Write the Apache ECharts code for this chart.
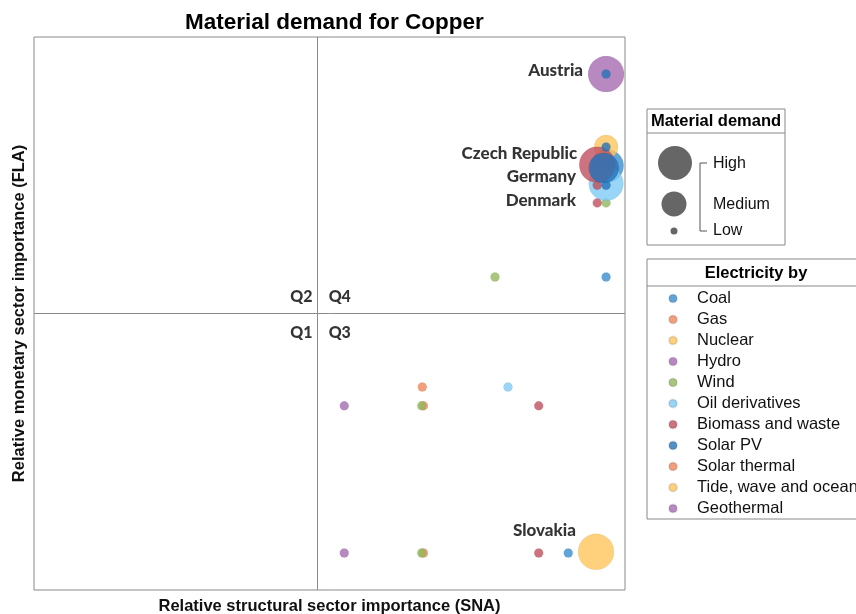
<!DOCTYPE html>
<html>
<head>
<meta charset="utf-8">
<script src="https://cdn.jsdelivr.net/npm/echarts@6/dist/echarts.min.js"></script>
<style>
  html, body { margin: 0; padding: 0; background: #fff; }
  #main { width: 856px; height: 614px; }
</style>
</head>
<body>
<div id="main"></div>
<script>
// sources shown in the legend
var sources = ['Coal', 'Gas', 'Nuclear', 'Hydro', 'Wind', 'Oil derivatives',
  'Biomass and waste', 'Solar PV', 'Solar thermal', 'Tide, wave and ocean', 'Geothermal'];
var colors = ['#3a8dd0', '#f0875a', '#ffc55c', '#a56bb0', '#90b95c', '#7fcbf5',
  '#c0505f', '#2673b8', '#f0875a', '#ffc55c', '#a56bb0'];

// [SNA, FLA, material demand (0 = low .. 100 = high)]
var coal = [[0.968, 0.566, 0], [0.904, 0.067, 0], [0.970, 0.767, 88]];
var gas = [[0.657, 0.367, 0], [0.659, 0.333, 0], [0.659, 0.067, 0]];
var nuclear = [[0.968, 0.801, 55], [0.951, 0.069, 100]];
var hydro = [[0.968, 0.933, 100], [0.525, 0.333, 0], [0.525, 0.067, 0]];
var wind = [[0.780, 0.566, 0], [0.968, 0.700, 0], [0.656, 0.333, 0], [0.656, 0.067, 0]];
var oil = [[0.802, 0.367, 0], [0.968, 0.735, 95]];
var biomass = [[0.854, 0.333, 0], [0.854, 0.067, 0], [0.953, 0.769, 100],
  [0.953, 0.732, 0], [0.953, 0.700, 0]];
var solarPV = [[0.968, 0.933, 0], [0.968, 0.801, 0], [0.964, 0.763, 78], [0.968, 0.732, 0]];
var solarThermal = [];
var tide = [];
var geothermal = [];
var seriesData = [coal, gas, nuclear, hydro, wind, oil, biomass, solarPV, solarThermal, tide, geothermal];

// country annotations [x, y, name]
var countries = [[0.929, 0.940, 'Austria'], [0.919, 0.790, 'Czech Republic'],
  [0.917, 0.747, 'Germany'], [0.917, 0.705, 'Denmark'], [0.917, 0.107, 'Slovakia']];

// quadrant split
var xSplit = 0.485;
var ySplit = 0.5;

var demandLevels = ['High', 'Medium', 'Low'];

var myChart = echarts.init(document.getElementById('main'));

var series = sources.map(function (name, i) {
  return {
    name: name,
    type: 'scatter',
    data: seriesData[i],
    symbolSize: function (v) { return 9 + v[2] * 0.27; },
    itemStyle: { color: colors[i], opacity: 0.8, borderColor: 'rgba(0,0,0,0.12)', borderWidth: 0.5 },
    z: 3
  };
});

// dividers + country names
series.push({
  name: 'labels',
  type: 'scatter',
  data: countries,
  symbolSize: 0,
  silent: true,
  z: 5,
  label: {
    show: true,
    position: 'left',
    distance: 0,
    formatter: function (p) { return p.data[2]; },
    fontFamily: 'Lato',
    fontWeight: 900,
    fontSize: 17,
    color: '#000'
  },
  markLine: {
    silent: true,
    symbol: 'none',
    label: { show: false },
    lineStyle: { color: '#8a8a8a', width: 1, type: 'solid' },
    data: [{ xAxis: xSplit }, { yAxis: ySplit }]
  }
});

var quadLabels = [
  { value: [xSplit, ySplit], name: 'Q2', label: { position: [-8, -25], align: 'right' } },
  { value: [xSplit, ySplit], name: 'Q4', label: { position: [8, -25], align: 'left' } },
  { value: [xSplit, ySplit], name: 'Q1', label: { position: [-8, 11], align: 'right' } },
  { value: [xSplit, ySplit], name: 'Q3', label: { position: [8, 11], align: 'left' } }
];
series.push({
  name: 'quadrants',
  type: 'scatter',
  data: quadLabels,
  symbolSize: 0,
  silent: true,
  label: {
    show: true,
    formatter: '{b}',
    fontFamily: 'Lato',
    fontWeight: 900,
    fontSize: 16,
    color: '#000'
  }
});

var option = {
  animation: false,
  title: {
    text: 'Material demand for Copper',
    left: 180,
    top: 6,
    textStyle: { fontFamily: 'Liberation Sans, Arial', fontWeight: 'bold', fontSize: 22.5, color: '#000' }
  },
  grid: { left: 34, right: 231, top: 37, bottom: 24, show: true, borderColor: '#8a8a8a', borderWidth: 1,
    containLabel: false, outerBoundsMode: 'none' },
  xAxis: {
    type: 'value', min: 0, max: 1,
    name: 'Relative structural sector importance (SNA)',
    nameLocation: 'middle', nameGap: 8,
    nameTextStyle: { fontFamily: 'Liberation Sans, Arial', fontWeight: 'bold', fontSize: 16.5, color: '#111' },
    axisLine: { show: false }, axisTick: { show: false }, axisLabel: { show: false }, splitLine: { show: false }
  },
  yAxis: {
    type: 'value', min: 0, max: 1,
    name: 'Relative monetary sector importance (FLA)',
    nameLocation: 'middle', nameGap: 6,
    nameTextStyle: { fontFamily: 'Liberation Sans, Arial', fontWeight: 'bold', fontSize: 16.5, color: '#111' },
    axisLine: { show: false }, axisTick: { show: false }, axisLabel: { show: false }, splitLine: { show: false }
  },
  legend: {
    data: sources,
    orient: 'vertical',
    left: 663,
    top: 285,
    icon: 'circle',
    itemWidth: 38,
    itemHeight: 8,
    itemGap: 4,
    selectedMode: false,
    textStyle: { fontFamily: 'Liberation Sans, Arial', fontSize: 16.5, lineHeight: 16, color: '#111' }
  },
  graphic: [
    // material demand box
    { type: 'rect', shape: { x: 647, y: 109, width: 138, height: 136 }, style: { fill: '#fff', stroke: '#888', lineWidth: 1 }, z: 0 },
    { type: 'line', shape: { x1: 647, y1: 133, x2: 785, y2: 133 }, style: { stroke: '#888', lineWidth: 1 } },
    { type: 'text', x: 716, y: 121, style: { text: 'Material demand', font: 'bold 16.5px Liberation Sans, Arial', fill: '#000', align: 'center', verticalAlign: 'middle' } },
    { type: 'circle', shape: { cx: 675, cy: 163, r: 17 }, style: { fill: '#666' } },
    { type: 'circle', shape: { cx: 674, cy: 204, r: 12.5 }, style: { fill: '#666' } },
    { type: 'circle', shape: { cx: 674, cy: 231, r: 3.5 }, style: { fill: '#666' } },
    { type: 'polyline', shape: { points: [[707, 163], [700, 163], [700, 231], [707, 231]] }, style: { stroke: '#555', lineWidth: 1, fill: null } },
    { type: 'text', x: 713, y: 164, style: { text: demandLevels[0], font: '16px Liberation Sans, Arial', fill: '#111', verticalAlign: 'middle' } },
    { type: 'text', x: 713, y: 205, style: { text: demandLevels[1], font: '16px Liberation Sans, Arial', fill: '#111', verticalAlign: 'middle' } },
    { type: 'text', x: 713, y: 231, style: { text: demandLevels[2], font: '16px Liberation Sans, Arial', fill: '#111', verticalAlign: 'middle' } },
    // electricity box
    { type: 'rect', shape: { x: 647, y: 259, width: 220, height: 260 }, style: { fill: '#fff', stroke: '#888', lineWidth: 1 }, z: 0 },
    { type: 'line', shape: { x1: 647, y1: 286, x2: 867, y2: 286 }, style: { stroke: '#888', lineWidth: 1 } },
    { type: 'text', x: 756, y: 273, style: { text: 'Electricity by', font: 'bold 16.5px Liberation Sans, Arial', fill: '#000', align: 'center', verticalAlign: 'middle' } }
  ],
  series: series
};

myChart.setOption(option);
</script>
</body>
</html>
